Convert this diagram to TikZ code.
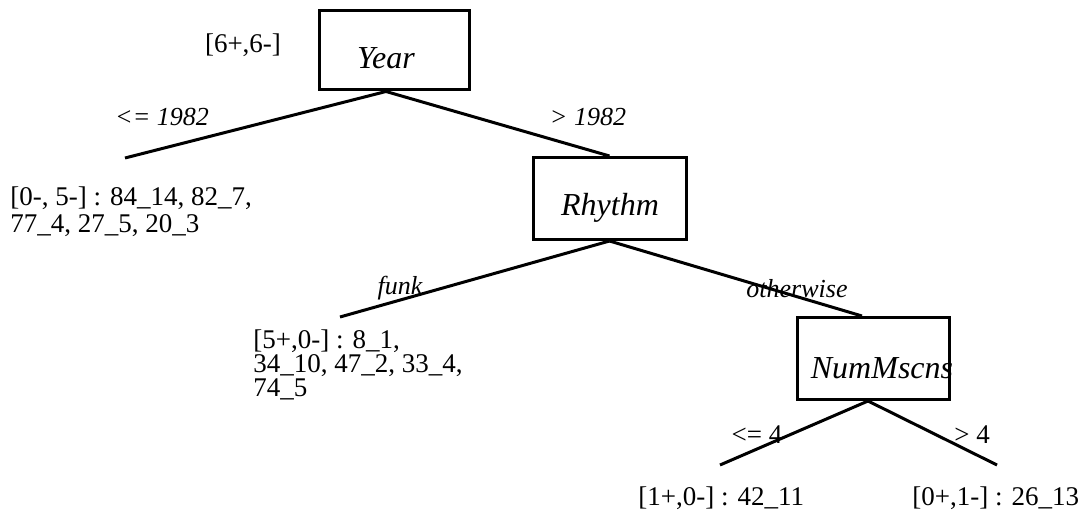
\documentclass[tikz,border=0pt]{standalone}
\usepackage{fontspec}
\setmainfont{Liberation Serif}
\usetikzlibrary{calc}
\begin{document}
\begin{tikzpicture}[x=0.5pt,y=-0.5pt,
  box/.style={draw,line width=1.5pt,inner sep=0pt,minimum width=#1,minimum height=41pt},
  attr/.style={inner sep=0pt,font=\fontsize{16}{18}\selectfont\itshape},
  cond/.style={inner sep=0pt,font=\fontsize{13}{15}\selectfont\itshape},
  condup/.style={inner sep=0pt,font=\fontsize{13.5}{15}\selectfont},
  leaf/.style={inner sep=0pt,anchor=north west,align=left,font=\fontsize{13.5}{#1}\selectfont},
  edge/.style={line width=1.5pt}]
\useasboundingbox (0,0) rectangle (1080,513);

% decision nodes
\node[box=75pt,minimum height=39.5pt] (year) at (394,50.5) {};
\node[attr] (yeartext) at (386,58) {Year};
\node[box=76.5pt] (rhythm) at (609.5,198.5) {};
\node[attr] (rhythmtext) at (610,208) {Rhythm};
\node[box=76pt] (nm) at (873,358.5) {};
\node[attr] (nmtext) at (882,368) {NumMscns};

% class counts at the root
\node[condup] (rootcount) at (243,45) {[6+,6-]};

% free ends of the leaf branches
\coordinate (yearleft) at (125,158);
\coordinate (funkend) at (340,317);
\coordinate (le4end) at (720,465);
\coordinate (gt4end) at (997,465);

% branches
\draw[edge] (year.south -| yeartext.center) -- (yearleft);
\draw[edge] (year.south -| yeartext.center) -- (rhythm.north);
\draw[edge] (rhythm.south) -- (funkend);
\draw[edge] (rhythm.south) -- ($(nm.north)+(-11,0)$);
\draw[edge] ($(nm.south)+(-5,0)$) -- (le4end);
\draw[edge] ($(nm.south)+(-5,0)$) -- (gt4end);

% branch conditions
\node[cond] (c1) at (162,117) {<= 1982};
\node[cond] (c2) at (588,117) {> 1982};
\node[cond] (c3) at (400,288) {funk};
\node[cond] (c4) at (797,289) {otherwise};
\node[condup] (c5) at (757,435) {<= 4};
\node[condup] (c6) at (972,435) {> 4};

% leaves
\node[leaf=13.5pt] (leaf1) at (10,186) {[0-, 5-] : 84\_14, 82\_7,\\77\_4, 27\_5, 20\_3};
\node[leaf=12pt] (leaf2) at (253,329) {[5+,0-] : 8\_1,\\34\_10, 47\_2, 33\_4,\\74\_5};
\node[leaf=12pt] (leaf3) at (638,486) {[1+,0-] : 42\_11};
\node[leaf=12pt] (leaf4) at (912,486) {[0+,1-] : 26\_13};
\end{tikzpicture}
\end{document}
